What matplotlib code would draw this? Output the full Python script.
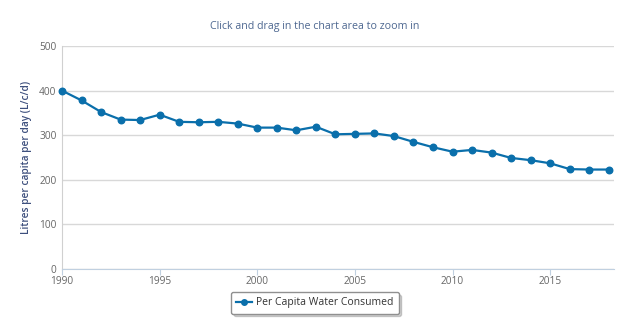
import matplotlib
matplotlib.use('agg')
import matplotlib.pyplot as plt
from matplotlib.ticker import MultipleLocator

plt.rcParams['font.family'] = ['Open Sans', 'DejaVu Sans']

years = list(range(1990, 2019))
litres = [400, 378, 352, 335, 334, 346, 330, 329, 330, 326,
          317, 317, 311, 319, 302, 303, 304, 298, 285, 273,
          263, 267, 261, 249, 244, 237, 224, 223, 223]

LINE = '#0a6fab'
W, H = 624, 332

fig = plt.figure(figsize=(W / 100, H / 100), dpi=100)
ax = fig.add_axes([62 / W, 1 - 269 / H, (614 - 62) / W, (269 - 46) / H])

ax.plot(years, litres, color=LINE, lw=1.6, marker='o', ms=4.7,
        label='Per Capita Water Consumed', zorder=3, clip_on=False)

ax.set_xlim(1990, 2018.27)
ax.set_ylim(0, 500)
ax.yaxis.set_major_locator(MultipleLocator(100))
ax.xaxis.set_major_locator(MultipleLocator(5))
ax.grid(axis='y', color='#d8d8d8', lw=1)
ax.set_axisbelow(True)

for s in ['top', 'right']:
    ax.spines[s].set_visible(False)
ax.spines['left'].set_color('#d0d0d0')
ax.spines['bottom'].set_color('#c0d0e0')
ax.tick_params(axis='y', length=0, pad=4, labelsize=7.3, labelcolor='#666666')
ax.tick_params(axis='x', length=4, color='#c0d0e0', pad=1, labelsize=7.3,
               labelcolor='#666666')

ax.set_ylabel('Litres per capita per day (L/c/d)', fontsize=7.3, color='#3d4f7d',
              fontweight='semibold', labelpad=5)
fig.text(315 / W, 1 - 27 / H, 'Click and drag in the chart area to zoom in',
         ha='center', va='center', fontsize=7.7, color='#4d6790')

leg = fig.legend(loc='center', bbox_to_anchor=(315 / W, 1 - 303 / H),
                 fontsize=7.5, frameon=True, fancybox=True,
                 shadow={'alpha': 0.25, 'ox': 2, 'oy': -2},
                 handlelength=1.5, handletextpad=0.4, borderpad=0.5,
                 markerscale=0.85, edgecolor='#909090', labelcolor='#333333')
leg.get_frame().set_linewidth(1)

fig.savefig('out.png', dpi=100)
